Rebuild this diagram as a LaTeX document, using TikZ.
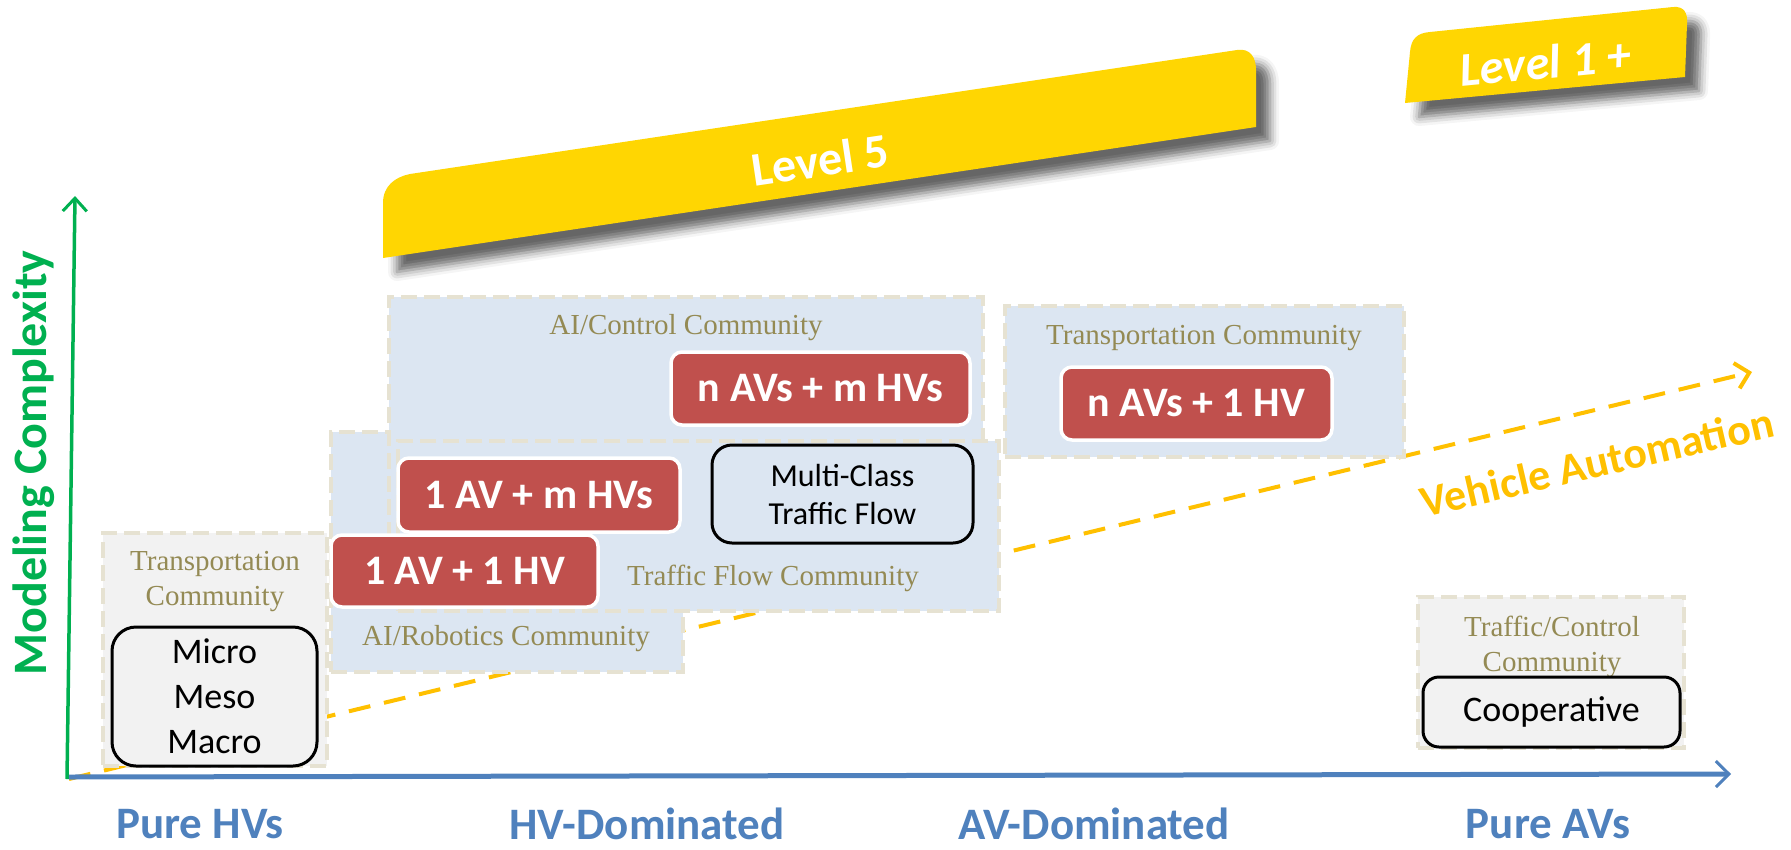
\documentclass[tikz,border=0pt]{standalone}
\usepackage{fontspec}
\setmainfont{Carlito}
\newfontfamily\commfont{Liberation Serif}
\usetikzlibrary{arrows.meta,shadows.blur}

\definecolor{axisgreen}{HTML}{00B050}
\definecolor{axisblue}{HTML}{4F81BD}
\definecolor{autogold}{HTML}{FFC000}
\definecolor{bannergold}{HTML}{FFD602}
\definecolor{boxred}{HTML}{C0504D}
\definecolor{commblue}{HTML}{DCE6F2}
\definecolor{commgray}{HTML}{F2F2F2}
\definecolor{commedge}{HTML}{E6E2D2}
\definecolor{commtext}{HTML}{948A54}

\tikzset{
  commbox/.style={draw=commedge, line width=4pt, dash pattern=on 16pt off 7pt,
    fill=commblue, inner sep=0pt},
  commgraybox/.style={commbox, fill=commgray},
  commlabel/.style={text=commtext, font=\commfont\fontsize{29}{35}\selectfont,
    align=center, inner sep=0pt},
  redbox/.style={draw=white, line width=3.5pt, fill=boxred, rounded corners=11pt,
    inner sep=0pt, text=white, font=\bfseries\fontsize{42}{46}\selectfont},
  modelbox/.style={draw=black, line width=3pt, rounded corners=20pt, inner sep=0pt,
    align=center, font=\fontsize{36}{45}\selectfont},
  axislabel/.style={text=axisblue, font=\bfseries\fontsize{45}{48}\selectfont, inner sep=0pt},
  banner/.style={fill=bannergold, blur shadow={shadow xshift=14pt, shadow yshift=-14pt,
    shadow blur radius=9pt, shadow opacity=60}},
  bannertext/.style={text=white, inner sep=0pt}
}

\begin{document}
\begin{tikzpicture}[x=1pt,y=-1pt]
\useasboundingbox (0,0) rectangle (1791,849);

% axes anchors
\coordinate (origin) at (67,779);
\coordinate (ytop) at (75,196);
\coordinate (xorig) at (69,777);
\coordinate (xend) at (1731,774);
\coordinate (astart) at (69,779);
\coordinate (aend) at (1752,372);

% automation trend (behind everything)
\draw[autogold, line width=4pt, dash pattern=on 22pt off 14pt,
  -{Straight Barb[length=13pt,width=26pt,line width=4pt]}] (astart) -- (aend);

% level banners
\path[banner] (383,258) -- (383,203) .. controls (383,186) and (395,177) .. (410,174)
  -- (1237,50) .. controls (1250,48) and (1256,57) .. (1256,70) -- (1256,127) -- cycle;
\node[bannertext, rotate=8.5, font=\bfseries\fontsize{48}{52}\selectfont] (lvlfive) at (820,160) {Level 5};

\path[banner] (1405,103) -- (1410,52) .. controls (1411,39) and (1417,33) .. (1430,32)
  -- (1673,7) .. controls (1684,6) and (1688,13) .. (1687,24) -- (1685,77) -- cycle;
\node[bannertext, rotate=5.5, font=\bfseries\itshape\fontsize{48}{52}\selectfont] (lvlone) at (1545,62) {Level 1 +};

% community areas
\node[commbox, minimum width=352pt, minimum height=240pt] (robot) at (507,552) {};
\node[commbox, minimum width=594pt, minimum height=243pt] (aictrl) at (686,418.5) {};
\node[commbox, minimum width=601pt, minimum height=170pt] (tflow) at (698.5,526) {};
\node[commbox, minimum width=399pt, minimum height=151pt] (transR) at (1204.5,381.5) {};
\node[commgraybox, minimum width=224pt, minimum height=233pt] (transL) at (215,649.5) {};
\node[commgraybox, minimum width=266pt, minimum height=151pt] (tfctrl) at (1551,672.5) {};

% community names
\node[commlabel] (aictrlname) at (686,328) {AI/Control Community};
\node[commlabel] (tflowname) at (773,578) {Traffic Flow Community};
\node[commlabel] (robotname) at (506,639) {AI/Robotics Community};
\node[commlabel] (transRname) at (1204,338) {Transportation Community};
\node[commlabel] (transLname) at (215,582) {Transportation\\Community};
\node[commlabel] (tfctrlname) at (1552,647) {Traffic/Control\\Community};

% mixed-traffic settings
\node[redbox, minimum width=299pt, minimum height=73pt] (nm) at (820.5,388.5) {n AVs + m HVs};
\node[redbox, minimum width=282pt, minimum height=74pt] (om) at (539,495) {1 AV + m HVs};
\node[redbox, minimum width=267pt, minimum height=72pt] (oo) at (464.5,571) {1 AV + 1 HV};
\node[redbox, minimum width=271pt, minimum height=73pt] (no) at (1196.5,403.5) {n AVs + 1 HV};

% classical models
\node[modelbox, fill=commblue, minimum width=261pt, minimum height=98pt,
  font=\fontsize{32}{38}\selectfont] (multi) at (842.5,494) {Multi-Class\\Traffic Flow};
\node[modelbox, fill=commgray, rounded corners=24pt, minimum width=205pt, minimum height=139pt] (mmm) at (214.5,696.5) {Micro\\Meso\\Macro};
\node[modelbox, fill=commgray, rounded corners=16pt, minimum width=257pt, minimum height=70pt] (coop) at (1551.5,712) {Cooperative};

% axes
\draw[axisgreen, line width=3.5pt, -{Straight Barb[length=13pt,width=24pt,line width=3pt]}] (origin) -- (ytop);
\draw[axisblue, line width=5pt, -{Straight Barb[length=13pt,width=26pt,line width=3pt]}] (xorig) -- (xend);

% axis titles
\node[text=axisgreen, rotate=90, inner sep=0pt, font=\bfseries\fontsize{48}{50}\selectfont] (ytitle) at (34,463) {Modeling Complexity};
\node[text=autogold, rotate=13, inner sep=0pt, font=\bfseries\fontsize{44}{48}\selectfont] (atitle) at (1597,462) {Vehicle Automation};

% penetration levels
\node[axislabel] (purehv) at (200,824) {Pure HVs};
\node[axislabel] (hvdom) at (647,824) {HV-Dominated};
\node[axislabel] (avdom) at (1094,824) {AV-Dominated};
\node[axislabel] (pureav) at (1548,824) {Pure AVs};
\end{tikzpicture}
\end{document}
